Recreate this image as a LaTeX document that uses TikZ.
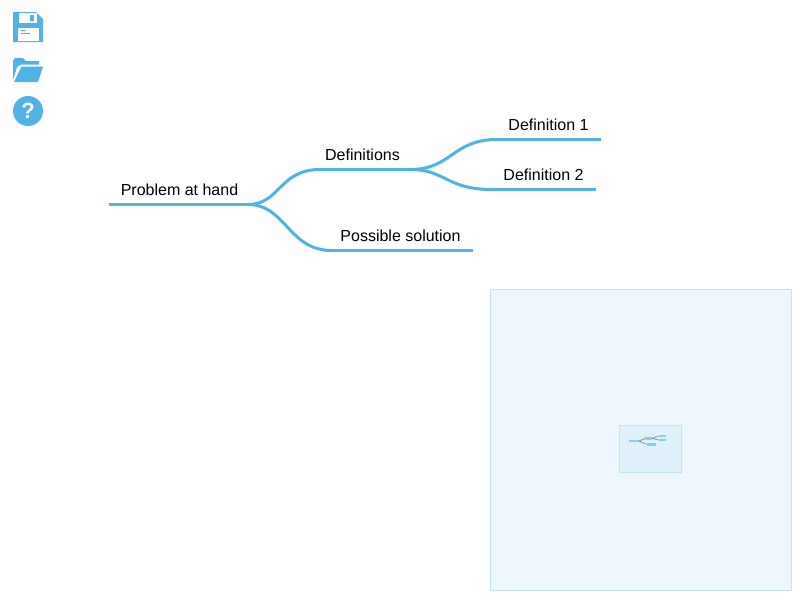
\documentclass[tikz,border=0pt]{standalone}
\usepackage{fontspec}
\setmainfont{Liberation Sans}
\definecolor{mapblue}{HTML}{4FB3E8}
\definecolor{panelfill}{HTML}{EEF7FD}
\definecolor{panelline}{HTML}{BFE3F5}
\definecolor{innerfill}{HTML}{DFF1FB}
\definecolor{minigrey}{HTML}{8F9AA0}
\definecolor{miniblue}{HTML}{84CDF3}
\tikzset{
  branch/.style={draw=mapblue,line width=2.25pt},
  link/.style={draw=mapblue,line width=2.25pt},
  label/.style={inner sep=0pt,font=\fontsize{12}{14}\selectfont,text=black,anchor=base},
  minibar/.style={draw=miniblue,line width=2.1pt},
  minilink/.style={draw=minigrey,line width=.65pt},
  icon/.style={fill=mapblue,draw=none},
  iconhole/.style={fill=white,draw=none}
}
\begin{document}
\begin{tikzpicture}[x=.75pt,y=-.75pt]
\useasboundingbox (0,0) rectangle (800,600);
\fill[white] (0,0) rectangle (800,600);
% icons
\path[icon] (13,12) -- (36,12) -- (43,19) -- (43,42) -- (13,42) -- cycle;
\path[iconhole] (18.5,13) rectangle (37,22.7);
\path[icon] (30,15.3) rectangle (34,20.7);
\path[iconhole] (18,28) rectangle (39,41);
\path[icon] (21.3,30) rectangle (26,31.2);
\path[icon] (21.3,33) rectangle (30,34);
\path[icon] (13,80) -- (13,60.5) -- (15,58) -- (23,58) -- (26,61) -- (39,61) -- (39,64.5) -- (21,64.5) -- (17,67) -- cycle;
\path[icon] (21.5,66.5) -- (43,66.5) -- (38,82) -- (14,82) -- cycle;
\node[circle,fill=mapblue,minimum size=22.5pt,inner sep=0pt,text=white,font=\bfseries\fontsize{16.5}{18}\selectfont] (help) at (28,111) {?};
% map
\coordinate (rootL) at (109,204.5);
\coordinate (rootOut) at (248,204.5);
\coordinate (defIn) at (320,169.5);
\coordinate (defL) at (315,169.5);
\coordinate (defR) at (415,169.5);
\coordinate (defOut) at (410,169.5);
\coordinate (oneIn) at (497,139.5);
\coordinate (oneL) at (490,139.5);
\coordinate (oneR) at (601,139.5);
\coordinate (twoIn) at (492,189.5);
\coordinate (twoL) at (490,189.5);
\coordinate (twoR) at (596,189.5);
\coordinate (solIn) at (332,250.5);
\coordinate (solL) at (325,250.5);
\coordinate (solR) at (473,250.5);
\draw[branch] (rootL) -- (rootOut);
\draw[branch] (defL) -- (defR);
\draw[branch] (oneL) -- (oneR);
\draw[branch] (twoL) -- (twoR);
\draw[branch] (solL) -- (solR);
\draw[link] (rootOut) .. controls (280,204.5) and (279,169.5) .. (defIn);
\draw[link] (rootOut) .. controls (286,204.5) and (288,250.5) .. (solIn);
\draw[link] (defOut) .. controls (452,169.5) and (452,139.5) .. (oneIn);
\draw[link] (defOut) .. controls (446,169.5) and (446,189.5) .. (twoIn);
\node[label] (root) at (179.5,195) {Problem at hand};
\node[label] (def) at (362.5,160) {Definitions};
\node[label] (one) at (548.5,130) {Definition 1};
\node[label] (two) at (543.5,180) {Definition 2};
\node[label] (sol) at (400.5,241) {Possible solution};
% minimap
\node[draw=panelline,fill=panelfill,line width=.75pt,minimum width=225.75pt,minimum height=225.75pt,inner sep=0pt] (panel) at (641,440) {};
\node[draw=panelline,fill=innerfill,line width=.75pt,minimum width=46.5pt,minimum height=35.25pt,inner sep=0pt] (view) at (650.5,449) {};
\coordinate (mrootL) at (629,441);
\coordinate (mrootR) at (639,441);
\coordinate (mdefL) at (645,438.3);
\coordinate (mdefR) at (652,438.3);
\coordinate (moneL) at (658.5,436);
\coordinate (moneR) at (666,436);
\coordinate (mtwoL) at (658.5,440);
\coordinate (mtwoR) at (666,440);
\coordinate (msolL) at (646.5,444.3);
\coordinate (msolR) at (656,444.3);
\draw[minilink] (mrootR) .. controls (642,441) and (643,438.3) .. (mdefL);
\draw[minilink] (mrootR) .. controls (642,441) and (643,444.3) .. (msolL);
\draw[minilink] (mdefR) .. controls (655,438.3) and (656,436) .. (moneL);
\draw[minilink] (mdefR) .. controls (655,438.3) and (656,440) .. (mtwoL);
\draw[minibar] (mrootL) -- (mrootR);
\draw[minibar] (mdefL) -- (mdefR);
\draw[minibar] (moneL) -- (moneR);
\draw[minibar] (mtwoL) -- (mtwoR);
\draw[minibar] (msolL) -- (msolR);
\end{tikzpicture}
\end{document}
